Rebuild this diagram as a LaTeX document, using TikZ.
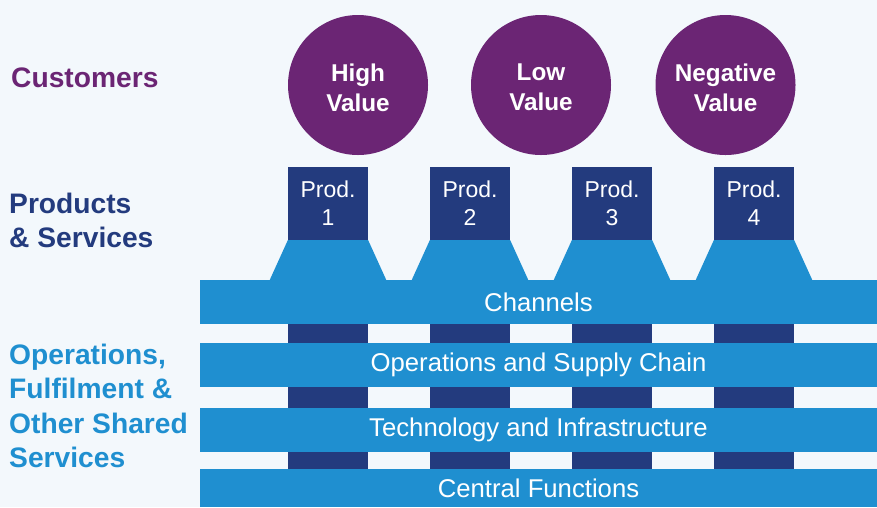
\documentclass[tikz,border=0pt]{standalone}
\usepackage{fontspec}
\setmainfont{Liberation Sans}
\usetikzlibrary{calc}
\definecolor{bgc}{HTML}{F3F8FC}
\definecolor{purp}{HTML}{6B2574}
\definecolor{navy}{HTML}{233B7E}
\definecolor{lblue}{HTML}{1F8FD0}
\begin{document}
\begin{tikzpicture}[x=1pt,y=-1pt,
  custc/.style={circle,fill=purp,minimum size=140pt,inner sep=0pt},
  custt/.style={text=white,inner sep=0pt,align=center,yshift=-2.5pt,
    font=\bfseries\fontsize{24.3}{30}\selectfont},
  prodbox/.style={rectangle,fill=navy,text=white,minimum width=80pt,minimum height=73pt,inner sep=0pt,
    align=center,font=\fontsize{23}{28}\selectfont},
  band/.style={rectangle,fill=lblue,text=white,minimum width=677pt,inner sep=0pt,
    font=\fontsize{25.7}{30}\selectfont},
  lab/.style={anchor=base west,inner sep=0pt,font=\bfseries\fontsize{28.2}{34}\selectfont}]
\useasboundingbox (0,0) rectangle (877,507);
\fill[bgc] (0,0) rectangle (877,507);
\coordinate (bot) at (0,507);
% product boxes
\node[prodbox] (p1) at (328,203.5) {Prod.\\1};
\node[prodbox] (p2) at (470,203.5) {Prod.\\2};
\node[prodbox] (p3) at (612,203.5) {Prod.\\3};
\node[prodbox] (p4) at (754,203.5) {Prod.\\4};
% columns
\foreach \p in {p1,p2,p3,p4}
  \fill[navy] (\p.south west) rectangle (\p.south east |- bot);
% bands
\node[band,minimum height=44pt] (ch) at (538.5,302) {Channels};
\node[band,minimum height=44pt] (ops) at (538.5,365) {Operations and Supply Chain};
\node[band,minimum height=44pt] (tech) at (538.5,430) {Technology and Infrastructure};
\node[band,minimum height=38pt] (cen) at (538.5,488) {Central Functions};
% trapezoids
\foreach \p in {p1,p2,p3,p4}
  \fill[lblue] (\p.south west) -- (\p.south east) -- ($(\p.south east |- ch.north)+(18,0)$)
    -- ($(\p.south west |- ch.north)+(-18,0)$) -- cycle;
% customers
\node[custc,label={[custt]center:High\\Value}] (c1) at (358,85) {};
\node[custc,label={[custt]center:Low\\Value}] (c2) at (541,85) {};
\node[custc,label={[custt]center:Negative\\Value}] (c3) at (725.5,85) {};
% left labels
\node[lab,text=purp] (lcust) at (11,87) {Customers};
\node[lab,text=navy] (lprod1) at (9,213) {Products};
\node[lab,text=navy] (lprod2) at (9,247) {\& Services};
\node[lab,text=lblue] (lops1) at (9,364) {Operations,};
\node[lab,text=lblue] (lops2) at (9,398.5) {Fulfilment \&};
\node[lab,text=lblue] (lops3) at (9,433) {Other Shared};
\node[lab,text=lblue] (lops4) at (9,467) {Services};
\end{tikzpicture}
\end{document}
